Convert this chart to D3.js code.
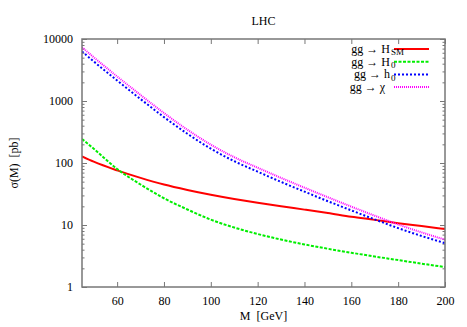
<!DOCTYPE html>
<html>
<head>
<meta charset="utf-8">
<script src="https://cdn.jsdelivr.net/npm/d3@7"></script>
<style>
  body { margin: 0; background: #fff; }
  text { font-family: "Liberation Serif", "DejaVu Serif", serif; fill: #000; }
</style>
</head>
<body>
<svg id="chart" width="467" height="327"></svg>
<script>
// values, sigma in pb
var masses   = [45, 50, 60, 70, 80, 90, 100, 110, 120, 130, 140, 150, 160, 170, 180, 190, 200];
var sigmaHSM = [128, 105, 76, 57.5, 45, 36.8, 30.8, 26.3, 22.8, 20.0, 17.7, 15.6, 13.6, 12.1, 10.7, 9.6, 8.6];
var sigmaH0  = [244, 170, 80, 45, 27, 17.8, 12.2, 9.1, 7.16, 5.82, 4.86, 4.14, 3.57, 3.10, 2.72, 2.38, 2.1];
var sigmah0  = [6300, 4350, 2140, 1075, 550, 296, 170, 107, 72.5, 49.5, 34.5, 24.2, 17.2, 12.3, 8.9, 6.65, 5.1];
var sigmaChi = [7350, 5080, 2490, 1250, 640, 344, 198, 124, 84, 57.5, 40, 28, 19.8, 14.1, 10.2, 7.6, 5.8];

var xTicks = [60, 80, 100, 120, 140, 160, 180, 200];
var yTicks = [1, 10, 100, 1000, 10000];

var series = [
    {label: "gg\u00a0\u2192\u00a0H", sub: "SM", values: sigmaHSM, color: "#ff0000", dash: null},
    {label: "gg\u00a0\u2192\u00a0H", sub: "0", values: sigmaH0, color: "#00ee00", dash: "3,1.5"},
    {label: "gg\u00a0\u2192\u00a0h", sub: "0", values: sigmah0, color: "#0000ff", dash: "2,2"},
    {label: "gg\u00a0\u2192\u00a0\u03c7", sub: "", values: sigmaChi, color: "#ff00ff", dash: "1,1"}
];

var margin = {left: 82, top: 39, right: 22, bottom: 40};
var width = 467 - margin.left - margin.right;
var height = 327 - margin.top - margin.bottom;

var svg = d3.select("#chart");
var g = svg.append("g").attr("transform", "translate(" + margin.left + "," + margin.top + ")");

var x = d3.scaleLinear().domain([45, 200]).range([0, width]);
var y = d3.scaleLog().domain([1, 10000]).range([height, 0]);

// minor log ticks 2..9 per decade
var minor = [];
yTicks.slice(0, -1).forEach(function(d) {
    for (var k = 2; k < 10; k++) minor.push(d * k);
});

const styleAxis = sel => {
    sel.select(".domain").remove();
    sel.selectAll("line").attr("stroke", "#777").attr("stroke-width", 1);
    sel.selectAll("text").attr("font-size", 12).attr("font-family", "Liberation Serif");
};

g.append("g").attr("transform", "translate(0," + height + ")")
    .call(d3.axisBottom(x).tickValues(xTicks).tickSize(-5).tickPadding(9).tickFormat(d3.format("d")))
    .call(styleAxis);
g.append("g")
    .call(d3.axisTop(x).tickValues(xTicks).tickSize(-5).tickFormat(""))
    .call(styleAxis);
g.append("g")
    .call(d3.axisLeft(y).tickValues(yTicks).tickSize(-5).tickPadding(9).tickFormat(d3.format("d")))
    .call(styleAxis);
g.append("g")
    .call(d3.axisLeft(y).tickValues(minor).tickSize(-2.5).tickFormat(""))
    .call(styleAxis);
g.append("g").attr("transform", "translate(" + width + ",0)")
    .call(d3.axisRight(y).tickValues(yTicks).tickSize(-5).tickFormat(""))
    .call(styleAxis);
g.append("g").attr("transform", "translate(" + width + ",0)")
    .call(d3.axisRight(y).tickValues(minor).tickSize(-2.5).tickFormat(""))
    .call(styleAxis);

g.append("clipPath").attr("id", "clip")
    .append("rect").attr("width", width).attr("height", height);

var line = d3.line()
    .x((d, i) => x(masses[i]))
    .y(d => y(d))
    .curve(d3.curveMonotoneX);

g.append("g").attr("clip-path", "url(#clip)")
    .selectAll("path")
    .data(series)
    .enter().append("path")
    .attr("d", d => line(d.values))
    .attr("fill", "none")
    .attr("stroke", d => d.color)
    .attr("stroke-width", 2)
    .attr("stroke-dasharray", d => d.dash);

// frame
g.append("rect")
    .attr("width", width).attr("height", height)
    .attr("fill", "none").attr("stroke", "#777").attr("stroke-width", 1.5);

// legend
var legend = g.selectAll(".legend")
    .data(series)
    .enter().append("g")
    .attr("class", "legend")
    .attr("transform", (d, i) => "translate(0," + (10 + i * 12.7) + ")");

legend.append("line")
    .attr("x1", 312).attr("x2", 347)
    .attr("stroke", d => d.color)
    .attr("stroke-width", 2)
    .attr("stroke-dasharray", d => d.dash);

legend.append("text")
    .attr("x", (d, i) => i === 3 ? 303 : 308)
    .attr("dy", "0.32em")
    .attr("text-anchor", "end")
    .attr("font-size", 12)
    .text(d => d.label);

legend.append("text")
    .attr("x", (d, i) => i === 3 ? 304 : 309)
    .attr("dy", "0.7em")
    .attr("font-size", 9)
    .text(d => d.sub);

svg.append("text")
    .attr("x", margin.left + width / 2)
    .attr("y", 25)
    .attr("text-anchor", "middle")
    .attr("font-size", 12)
    .text("LHC");

svg.append("text")
    .attr("x", margin.left + width / 2)
    .attr("y", 320)
    .attr("text-anchor", "middle")
    .attr("font-size", 12)
    .style("white-space", "pre")
    .text("M  [GeV]");

svg.append("text")
    .attr("transform", "translate(18," + (margin.top + height / 2) + ") rotate(-90)")
    .attr("text-anchor", "middle")
    .attr("font-size", 12)
    .style("white-space", "pre")
    .text("\u03c3(M)  [pb]");
</script>
</body>
</html>
